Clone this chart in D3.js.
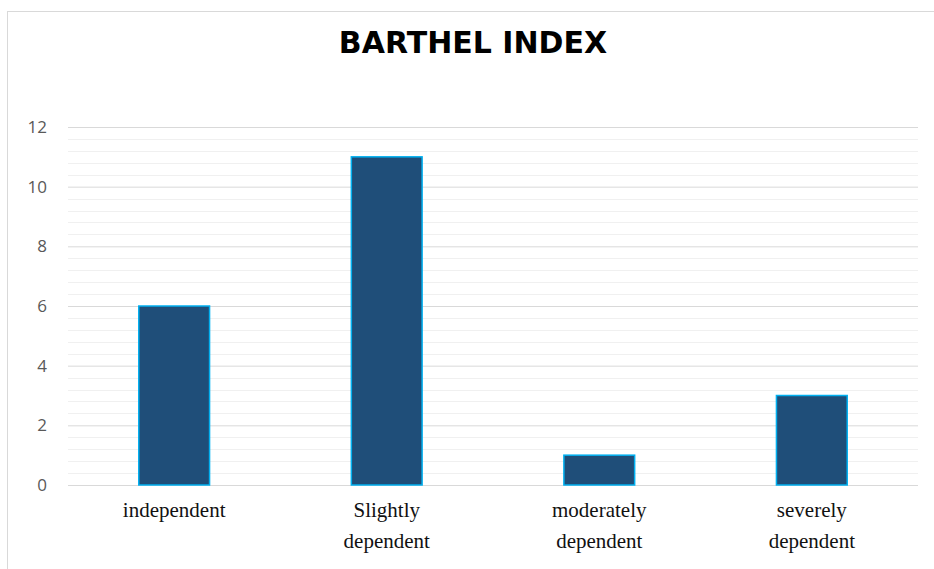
<!DOCTYPE html>
<html>
<head>
<meta charset="utf-8">
<script src="https://cdn.jsdelivr.net/npm/d3@7"></script>
<style>
  body { margin: 0; background: #fff; }
  svg { display: block; }
</style>
</head>
<body>
<div id="chart"></div>
<script>
// data
const categories = [["independent"], ["Slightly", "dependent"], ["moderately", "dependent"], ["severely", "dependent"]];
const values = [6, 11, 1, 3];
const yTicks = [0, 2, 4, 6, 8, 10, 12];
const minorTicks = d3.range(0, 12.01, 0.4);

const width = 934, height = 569;
const margin = { top: 127, right: 16, bottom: 84, left: 68 };

const svg = d3.select("#chart").append("svg")
    .attr("width", width)
    .attr("height", height);

// chart frame
svg.append("rect")
    .attr("x", 7.5).attr("y", 11.5)
    .attr("width", 960).attr("height", 700)
    .attr("fill", "none")
    .attr("stroke", "#d9d9d9");

svg.append("text")
    .attr("x", 473).attr("y", 53)
    .attr("text-anchor", "middle")
    .style("font-family", "'DejaVu Sans', sans-serif")
    .style("font-weight", "bold")
    .style("font-size", "30px")
    .attr("fill", "#000")
    .text("BARTHEL INDEX");

const x = d3.scaleBand()
    .domain(d3.range(categories.length))
    .range([margin.left, width - margin.right])
    .paddingInner(0.667)
    .paddingOuter(0.333);

const y = d3.scaleLinear()
    .domain([0, 12])
    .range([height - margin.bottom, margin.top]);

// minor gridlines
svg.append("g")
    .selectAll("line")
    .data(minorTicks.filter(t => Math.abs(t / 2 - Math.round(t / 2)) > 1e-6))
    .join("line")
    .attr("x1", margin.left).attr("x2", width - margin.right)
    .attr("y1", d => Math.round(y(d)) + 0.5).attr("y2", d => Math.round(y(d)) + 0.5)
    .attr("stroke", "#f0f0f0");

// major gridlines + labels via axis
const yAxis = d3.axisLeft(y)
    .tickValues(yTicks)
    .tickSize(-(width - margin.left - margin.right))
    .tickPadding(21);

const gy = svg.append("g")
    .attr("transform", `translate(${margin.left},0)`)
    .call(yAxis);
gy.select(".domain").remove();
gy.selectAll(".tick line").attr("stroke", "#d9d9d9");
gy.selectAll(".tick text")
    .attr("fill", "#595959")
    .style("font-family", "'Open Sans', sans-serif")
    .style("font-size", "17px");

// bars
svg.append("g")
    .selectAll("rect")
    .data(values)
    .join("rect")
    .attr("x", (d, i) => x(i))
    .attr("width", x.bandwidth())
    .attr("y", d => y(d))
    .attr("height", d => y(0) - y(d))
    .attr("fill", "#1f4e79")
    .attr("stroke", "#00b0f0")
    .attr("stroke-width", 1.5);

// category labels
const labels = svg.append("g")
    .selectAll("text")
    .data(categories)
    .join("text")
    .attr("x", (d, i) => x(i) + x.bandwidth() / 2)
    .attr("y", 517)
    .attr("text-anchor", "middle")
    .style("font-family", "'Liberation Serif', serif")
    .style("font-size", "21px")
    .attr("fill", "#111");

labels.selectAll("tspan")
    .data(d => d)
    .join("tspan")
    .attr("x", function () { return this.parentNode.getAttribute("x"); })
    .attr("dy", (d, i) => i === 0 ? 0 : 31)
    .text(d => d);
</script>
</body>
</html>
